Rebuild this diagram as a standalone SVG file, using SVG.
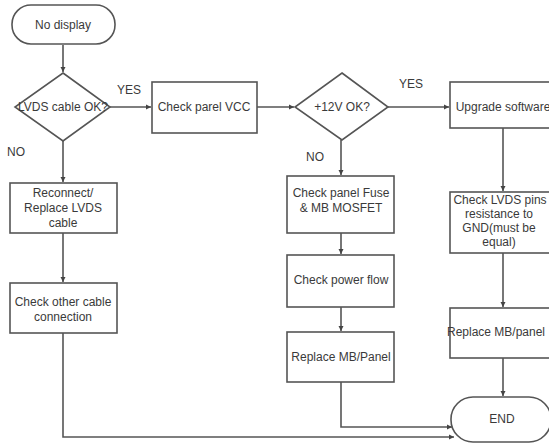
<svg xmlns="http://www.w3.org/2000/svg" width="549" height="445" viewBox="0 0 549 445">
<defs>
<marker id="ah" markerWidth="6" markerHeight="6" refX="5" refY="3" orient="auto" markerUnits="userSpaceOnUse">
<path d="M0,0.5 L5,3 L0,5.5 z" fill="#444"/>
</marker>
<style>
.shape{fill:#fff;stroke:#555;stroke-width:1.6}
.line{fill:none;stroke:#555;stroke-width:1.6;marker-end:url(#ah)}
.plain{fill:none;stroke:#555;stroke-width:1.6}
text{font-family:"Liberation Sans",Arial,sans-serif;font-size:12px;fill:#3a3a3a;text-anchor:middle}
.lbl{text-anchor:start}
</style>
</defs>
<rect width="549" height="445" fill="#fff"/>
<g id="connectors">
<path class="line" d="M63,45 L63,72"/>
<path class="line" d="M110,107 L151,107"/>
<path class="line" d="M257,107 L294,107"/>
<path class="line" d="M388,107 L449,107"/>
<path class="line" d="M63,141 L63,182"/>
<path class="line" d="M63,233 L63,282"/>
<path class="line" d="M341,140 L341,175"/>
<path class="line" d="M341,233 L341,254"/>
<path class="line" d="M341,307 L341,331"/>
<path class="line" d="M503,128 L503,191"/>
<path class="line" d="M503,253 L503,307"/>
<path class="line" d="M503,358 L503,396"/>
<path class="line" d="M341,382 L341,427 L452,427"/>
<path class="line" d="M63,333 L63,437 L454,437"/>
</g>
<g id="labels">
<text class="lbl" x="117" y="94">YES</text>
<text class="lbl" x="399" y="88">YES</text>
<text class="lbl" x="7" y="156">NO</text>
<text class="lbl" x="306" y="161">NO</text>
</g>
<g id="n-start">
<rect class="shape" x="12" y="5" width="103" height="39" rx="19"/>
<text x="63" y="29">No display</text>
</g>
<g id="n-lvds">
<path class="shape" d="M63,73 L110,107 L63,141 L15,107 z"/>
<text x="63" y="111">LVDS cable OK?</text>
</g>
<g id="n-vcc">
<rect class="shape" x="152" y="82" width="105" height="51"/>
<text x="204" y="111">Check parel VCC</text>
</g>
<g id="n-12v">
<path class="shape" d="M342,73 L388,107 L342,140 L295,107 z"/>
<text x="342" y="111">+12V OK?</text>
</g>
<g id="n-upgrade">
<rect class="shape" x="450" y="82" width="104" height="46"/>
<text x="503" y="111">Upgrade software</text>
</g>
<g id="n-reconnect">
<rect class="shape" x="10" y="183" width="107" height="50"/>
<text x="63" y="197">Reconnect/</text>
<text x="63" y="212">Replace LVDS</text>
<text x="63" y="227">cable</text>
</g>
<g id="n-othercable">
<rect class="shape" x="10" y="283" width="107" height="50"/>
<text x="63" y="306">Check other cable</text>
<text x="63" y="321">connection</text>
</g>
<g id="n-fuse">
<rect class="shape" x="287" y="176" width="107" height="57"/>
<text x="341" y="197">Check panel Fuse</text>
<text x="341" y="212">&amp; MB MOSFET</text>
</g>
<g id="n-powerflow">
<rect class="shape" x="287" y="255" width="107" height="52"/>
<text x="341" y="284">Check power flow</text>
</g>
<g id="n-replace1">
<rect class="shape" x="287" y="332" width="107" height="50"/>
<text x="341" y="361">Replace MB/Panel</text>
</g>
<g id="n-lvdspins">
<rect class="shape" x="450" y="192" width="104" height="61"/>
<text x="500" y="204">Check LVDS pins</text>
<text x="499" y="218">resistance to</text>
<text x="499" y="232">GND(must be</text>
<text x="499" y="246">equal)</text>
</g>
<g id="n-replace2">
<rect class="shape" x="450" y="308" width="104" height="50"/>
<text x="496" y="336">Replace MB/panel</text>
</g>
<g id="n-end">
<rect class="shape" x="451" y="397" width="100" height="45" rx="22"/>
<text x="502" y="423">END</text>
</g>
</svg>
